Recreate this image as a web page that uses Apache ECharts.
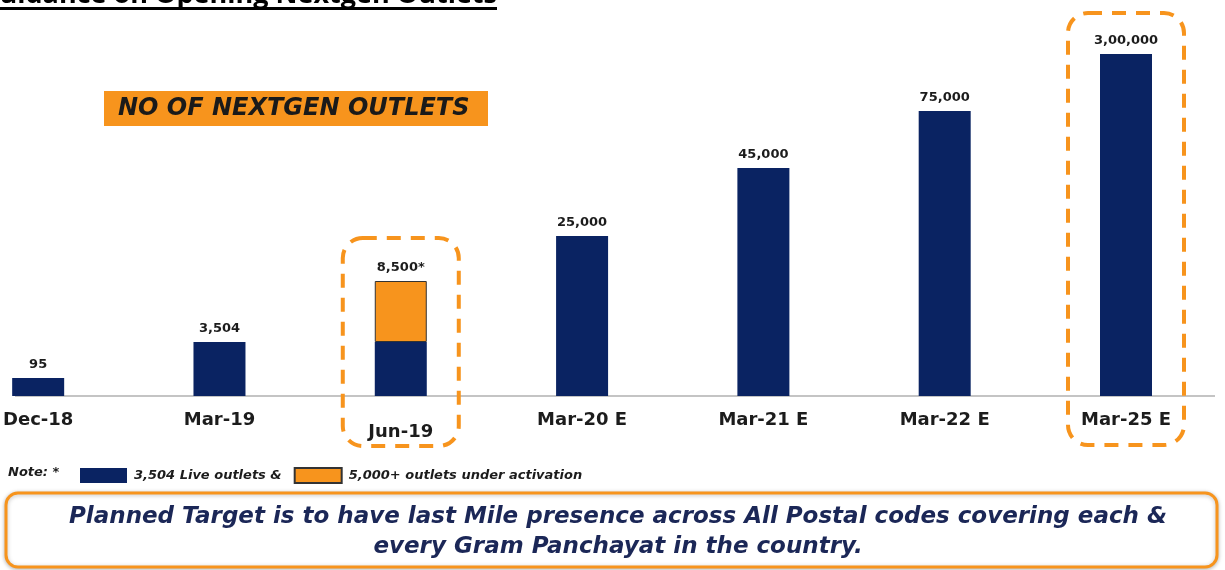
<!DOCTYPE html>
<html>
<head>
<meta charset="utf-8">
<script src="https://cdn.jsdelivr.net/npm/echarts@6/dist/echarts.min.js"></script>
<style>
  html, body { margin: 0; padding: 0; background: #fff; }
  #chart { width: 1225px; height: 570px; }
</style>
</head>
<body>
<div id="chart"></div>
<script>
// periods on the x axis
const periods = ['Dec-18', 'Mar-19', 'Jun-19', 'Mar-20 E', 'Mar-21 E', 'Mar-22 E', 'Mar-25 E'];
// figures printed over the bars
const outletLabels = ['95', '3,504', '8,500*', '25,000', '45,000', '75,000', '3,00,000'];
// bar heights as drawn on the slide (not to scale with the figures)
const liveHeights = [18, 54, 54, 160, 228, 285, 342];
const activationHeights = ['-', '-', 61, '-', '-', '-', '-'];

const NAVY = '#0a2362';
const ORANGE = '#f7941d';
const TEXT = '#1c1c1c';

const chart = echarts.init(document.getElementById('chart'));

function topLabel(params) {
  return outletLabels[params.dataIndex];
}

const labelFont = { fontFamily: 'DejaVu Sans', fontWeight: 'bold', fontSize: 13, color: TEXT };

chart.setOption({
  animation: false,
  backgroundColor: '#fff',
  legend: {
    left: 75,
    top: 462,
    itemWidth: 47,
    itemHeight: 15,
    itemGap: 12,
    icon: 'rect',
    selectedMode: false,
    textStyle: { fontFamily: 'DejaVu Sans', fontStyle: 'italic', fontWeight: 'bold', fontSize: 13, color: TEXT, padding: [0, 0, 0, 2] },
    data: ['3,504 Live outlets &', '5,000+ outlets under activation']
  },
  grid: { left: 0, right: 99, top: 36, bottom: 174, containLabel: false },
  xAxis: {
    type: 'category',
    boundaryGap: false,
    data: periods.map((p, i) => i === 2 ? { value: p, textStyle: { padding: [12, 0, 0, 0] } } : p),
    axisTick: { show: false },
    axisLine: { show: false },
    axisLabel: { margin: 15, fontFamily: 'DejaVu Sans', fontWeight: 'bold', fontSize: 18, color: TEXT }
  },
  yAxis: {
    type: 'value', min: 0, max: 360, show: false, splitLine: { show: false }
  },
  series: [
    {
      name: '3,504 Live outlets &',
      type: 'bar',
      stack: 'outlets',
      barWidth: 52,
      itemStyle: { color: NAVY },
      data: liveHeights.map((v, i) => i === 2 ? { value: v, label: { show: false } } : v),
      label: Object.assign({ show: true, position: 'top', distance: 7, formatter: topLabel }, labelFont)
    },
    {
      name: '5,000+ outlets under activation',
      type: 'bar',
      stack: 'outlets',
      barWidth: 52,
      itemStyle: { color: ORANGE, borderColor: '#333', borderWidth: 1 },
      data: activationHeights,
      label: Object.assign({ show: true, position: 'top', distance: 7, formatter: topLabel }, labelFont)
    }
  ]
});

// overlay: title, heading box, dashed highlight boxes, note and footer
function dashedBox(cx, top, bottom) {
  return {
    type: 'rect', z: 10,
    shape: { x: cx - 58, y: top, width: 116, height: bottom - top, r: 20 },
    style: { fill: 'none', stroke: ORANGE, lineWidth: 4, lineDash: [14, 10] }
  };
}

const junX = chart.convertToPixel({ xAxisIndex: 0 }, 'Jun-19');
const marX = chart.convertToPixel({ xAxisIndex: 0 }, 'Mar-25 E');

chart.setOption({
  graphic: [
    {
      type: 'line', z: 0,
      shape: { x1: 15, y1: 396, x2: 1215, y2: 396 },
      style: { stroke: '#c4c4c4', lineWidth: 2 }
    },
    {
      type: 'text', x: 497, y: 9,
      style: { text: 'Guidance on Opening Nextgen Outlets', fontFamily: 'Open Sans', fontWeight: 'bold', fontSize: 27, fill: '#000', align: 'right', verticalAlign: 'bottom' }
    },
    { type: 'rect', shape: { x: 0, y: 7, width: 497, height: 3 }, style: { fill: '#000' } },
    {
      type: 'rect', shape: { x: 104, y: 91, width: 384, height: 35 },
      style: { fill: ORANGE }
    },
    {
      type: 'text', x: 118, y: 109,
      style: { text: 'NO OF NEXTGEN OUTLETS', fontFamily: 'DejaVu Sans', fontStyle: 'italic', fontWeight: 'bold', fontSize: 24, fill: '#1a1a1a', verticalAlign: 'middle' }
    },
    dashedBox(junX, 238, 446),
    dashedBox(marX, 13, 445),
    {
      type: 'text', x: 8, y: 473,
      style: { text: 'Note: *', fontFamily: 'DejaVu Sans', fontStyle: 'italic', fontWeight: 'bold', fontSize: 13, fill: TEXT, verticalAlign: 'middle' }
    },
    {
      type: 'rect',
      shape: { x: 6, y: 493, width: 1211, height: 74, r: 12 },
      style: { fill: '#fff', stroke: ORANGE, lineWidth: 3, shadowBlur: 4, shadowColor: 'rgba(0,0,0,0.25)', shadowOffsetY: 1 }
    },
    {
      type: 'text', x: 618, y: 532,
      style: {
        text: 'Planned Target is to have last Mile presence across All Postal codes covering each &\nevery Gram Panchayat in the country.',
        fontFamily: 'DejaVu Sans', fontStyle: 'italic', fontWeight: 'bold', fontSize: 23, lineHeight: 30,
        fill: '#1b2757', align: 'center', verticalAlign: 'middle'
      }
    }
  ]
});
</script>
</body>
</html>
